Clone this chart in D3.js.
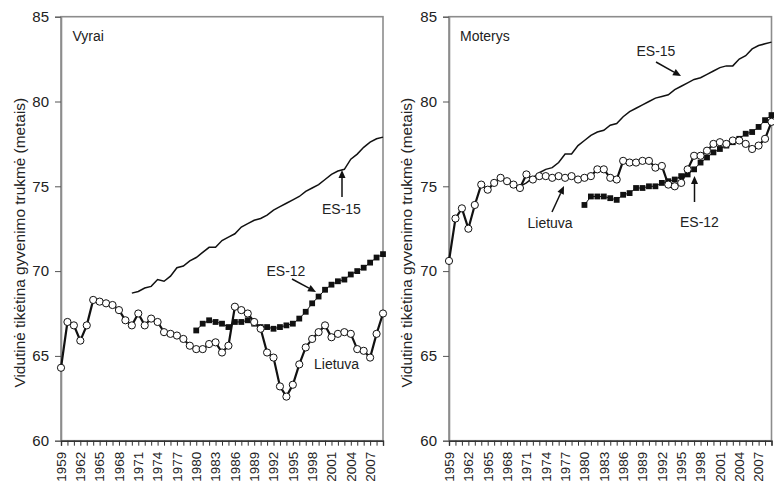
<!DOCTYPE html>
<html>
<head>
<meta charset="utf-8">
<script src="https://cdn.jsdelivr.net/npm/d3@7"></script>
<style>
  body { margin: 0; background: #fff; }
  svg text { font-family: "Liberation Sans", Arial, sans-serif; fill: #222; }
</style>
</head>
<body>
<div id="chart"></div>
<script>
// Years and tick labels
const firstYear = 1959;
const lastYear = 2009;
const yearLabels = [1959, 1962, 1965, 1968, 1971, 1974, 1977, 1980, 1983, 1986,
                    1989, 1992, 1995, 1998, 2001, 2004, 2007];
const yTicks = [60, 65, 70, 75, 80, 85];

// Vyrai (men)
const ltMenStart = 1959;
const ltMen = [64.3, 67.0, 66.8, 65.9, 66.8, 68.3, 68.2, 68.1, 68.0, 67.7,
               67.1, 66.8, 67.5, 66.8, 67.2, 67.0, 66.4, 66.3, 66.2, 66.0,
               65.6, 65.4, 65.4, 65.7, 65.8, 65.2, 65.6, 67.9, 67.7, 67.5,
               67.0, 66.6, 65.2, 64.9, 63.2, 62.6, 63.3, 64.5, 65.5, 66.0,
               66.4, 66.8, 66.1, 66.3, 66.4, 66.3, 65.4, 65.3, 64.9, 66.3,
               67.5];
const es12MenStart = 1980;
const es12Men = [66.5, 66.9, 67.1, 67.0, 66.9, 66.7, 67.0, 67.0, 67.1, 66.9,
                 66.7, 66.7, 66.6, 66.7, 66.8, 66.9, 67.2, 67.6, 68.1, 68.5,
                 68.9, 69.2, 69.4, 69.5, 69.8, 70.0, 70.2, 70.5, 70.8, 71.0];
const es15MenStart = 1970;
const es15Men = [68.7, 68.8, 69.0, 69.1, 69.5, 69.4, 69.7, 70.2, 70.3, 70.6,
                 70.8, 71.1, 71.4, 71.4, 71.8, 72.0, 72.2, 72.6, 72.8, 73.0,
                 73.1, 73.3, 73.6, 73.8, 74.0, 74.2, 74.4, 74.7, 74.9, 75.1,
                 75.4, 75.7, 75.9, 76.0, 76.6, 76.9, 77.3, 77.6, 77.8, 77.9];

// Moterys (women)
const ltWomenStart = 1959;
const ltWomen = [70.6, 73.1, 73.7, 72.5, 73.9, 75.1, 74.8, 75.2, 75.5, 75.3,
                 75.1, 74.9, 75.7, 75.4, 75.6, 75.6, 75.5, 75.6, 75.5, 75.6,
                 75.4, 75.5, 75.6, 76.0, 76.0, 75.5, 75.4, 76.5, 76.4, 76.4,
                 76.5, 76.5, 76.1, 76.2, 75.1, 75.0, 75.2, 76.0, 76.8, 76.8,
                 77.1, 77.5, 77.6, 77.5, 77.7, 77.7, 77.5, 77.2, 77.4, 77.8,
                 78.8];
const es12WomenStart = 1980;
const es12Women = [73.9, 74.4, 74.4, 74.4, 74.3, 74.2, 74.5, 74.6, 74.9, 74.9,
                   75.0, 75.0, 75.2, 75.3, 75.4, 75.6, 75.7, 76.0, 76.4, 76.7,
                   77.0, 77.2, 77.4, 77.6, 77.8, 78.1, 78.2, 78.5, 78.9, 79.2];
const es15WomenStart = 1970;
const es15Women = [75.0, 75.2, 75.5, 75.8, 76.0, 76.1, 76.4, 76.9, 76.9, 77.4,
                   77.7, 78.0, 78.2, 78.3, 78.6, 78.7, 79.1, 79.4, 79.6, 79.8,
                   80.0, 80.2, 80.3, 80.4, 80.7, 80.9, 81.1, 81.3, 81.4, 81.6,
                   81.8, 82.0, 82.1, 82.1, 82.5, 82.7, 83.1, 83.3, 83.4, 83.5];

const yLabel = 'Vidutinė tikėtina gyvenimo trukmė (metais)';

const width = 774, height = 489;
const svg = d3.select('#chart').append('svg')
    .attr('width', width)
    .attr('height', height);

function toPoints(values, start) {
    return values.map((v, i) => ({ year: start + i, value: v }));
}

function drawPanel({ left, right, title, titleX, labelX, lt, ltStart, es12, es12Start, es15, es15Start, notes }) {
    const x = d3.scaleLinear().domain([firstYear, lastYear]).range([left, right]);
    const y = d3.scaleLinear().domain([60, 85]).range([440.7, 16.7]);
    const g = svg.append('g');

    // Frame
    g.append('rect')
        .attr('x', left).attr('y', y(85))
        .attr('width', right - left).attr('height', y(60) - y(85))
        .attr('fill', 'none')
        .attr('stroke', '#8c8c8c')
        .attr('stroke-width', 1.6);

    // Y axis
    const yAxis = g.append('g')
        .attr('transform', `translate(${left},0)`)
        .call(d3.axisLeft(y).tickValues(yTicks).tickSize(6).tickPadding(6));
    yAxis.select('.domain').attr('stroke', '#8c8c8c').attr('stroke-width', 1.6);
    yAxis.selectAll('.tick line').attr('stroke', '#555');
    yAxis.selectAll('text').style('font-size', '15px').attr('fill', '#222');

    // X axis
    const xAxis = g.append('g')
        .attr('transform', `translate(0,${y(60)})`)
        .call(d3.axisBottom(x).tickValues(d3.range(firstYear, lastYear + 1)).tickSize(5).tickFormat(''));
    xAxis.select('.domain').attr('stroke', '#333').attr('stroke-width', 1.4);
    xAxis.selectAll('.tick line').attr('stroke', '#333');

    g.selectAll('.year-label')
        .data(yearLabels)
        .join('text')
        .attr('class', 'year-label')
        .attr('transform', d => `translate(${x(d) + 4.8},${y(60) + 11}) rotate(-90)`)
        .attr('text-anchor', 'end')
        .style('font-size', '13.5px')
        .text(d => d);

    // Axis title
    g.append('text')
        .attr('transform', `translate(${labelX},${(y(60) + y(85)) / 2 + 14}) rotate(-90)`)
        .attr('text-anchor', 'middle')
        .style('font-size', '15.4px')
        .text(yLabel);

    // Panel title
    g.append('text')
        .attr('x', titleX).attr('y', 41)
        .style('font-size', '14px')
        .text(title);

    // ES-15 line
    const line = d3.line().x(d => x(d.year)).y(d => y(d.value));
    g.append('path')
        .datum(toPoints(es15, es15Start))
        .attr('d', line)
        .attr('fill', 'none')
        .attr('stroke', '#111')
        .attr('stroke-width', 1.5);

    // ES-12 line with squares
    const es12Pts = toPoints(es12, es12Start);
    g.append('path')
        .datum(es12Pts)
        .attr('d', line)
        .attr('fill', 'none')
        .attr('stroke', '#111')
        .attr('stroke-width', 1);
    g.selectAll('.sq')
        .data(es12Pts)
        .join('rect')
        .attr('class', 'sq')
        .attr('x', d => x(d.year) - 2.9)
        .attr('y', d => y(d.value) - 2.9)
        .attr('width', 5.8).attr('height', 5.8)
        .attr('fill', '#111');

    // Lietuva line with circles
    const ltPts = toPoints(lt, ltStart);
    g.append('path')
        .datum(ltPts)
        .attr('d', line)
        .attr('fill', 'none')
        .attr('stroke', '#111')
        .attr('stroke-width', 2.2);
    g.selectAll('.dot')
        .data(ltPts)
        .join('circle')
        .attr('class', 'dot')
        .attr('cx', d => x(d.year))
        .attr('cy', d => y(d.value))
        .attr('r', 3.6)
        .attr('fill', '#fff')
        .attr('stroke', '#111')
        .attr('stroke-width', 1);

    // Annotations
    notes.forEach(n => {
        g.append('text')
            .attr('x', n.tx).attr('y', n.ty)
            .style('font-size', '14px')
            .text(n.text);
        if (!n.arrow) return;
        const [x1, y1, x2, y2] = n.arrow;
        const ang = Math.atan2(y2 - y1, x2 - x1);
        const hl = 8, hw = 3.5;
        const bx = x2 - hl * Math.cos(ang), by = y2 - hl * Math.sin(ang);
        g.append('line')
            .attr('x1', x1).attr('y1', y1)
            .attr('x2', bx).attr('y2', by)
            .attr('stroke', '#111').attr('stroke-width', 1.5);
        g.append('path')
            .attr('d', `M${x2},${y2}L${bx + hw * Math.sin(ang)},${by - hw * Math.cos(ang)}L${bx - hw * Math.sin(ang)},${by + hw * Math.cos(ang)}Z`)
            .attr('fill', '#111');
    });
}

drawPanel({
    left: 61, right: 383, title: 'Vyrai', titleX: 72.5, labelX: 24.5,
    lt: ltMen, ltStart: ltMenStart,
    es12: es12Men, es12Start: es12MenStart,
    es15: es15Men, es15Start: es15MenStart,
    notes: [
        { text: 'ES-15', tx: 322, ty: 214, arrow: [342, 197, 342, 170] },
        { text: 'ES-12', tx: 266.5, ty: 275.5, arrow: [292, 279, 316, 292] },
        { text: 'Lietuva', tx: 314, ty: 369 }
    ]
});

drawPanel({
    left: 449, right: 771.5, title: 'Moterys', titleX: 460, labelX: 412,
    lt: ltWomen, ltStart: ltWomenStart,
    es12: es12Women, es12Start: es12WomenStart,
    es15: es15Women, es15Start: es15WomenStart,
    notes: [
        { text: 'ES-15', tx: 636.5, ty: 56, arrow: [656, 62, 681, 76] },
        { text: 'Lietuva', tx: 527.5, ty: 228, arrow: [552, 212, 564, 186] },
        { text: 'ES-12', tx: 680, ty: 226.5, arrow: [694.5, 202, 694.5, 176] }
    ]
});
</script>
</body>
</html>
